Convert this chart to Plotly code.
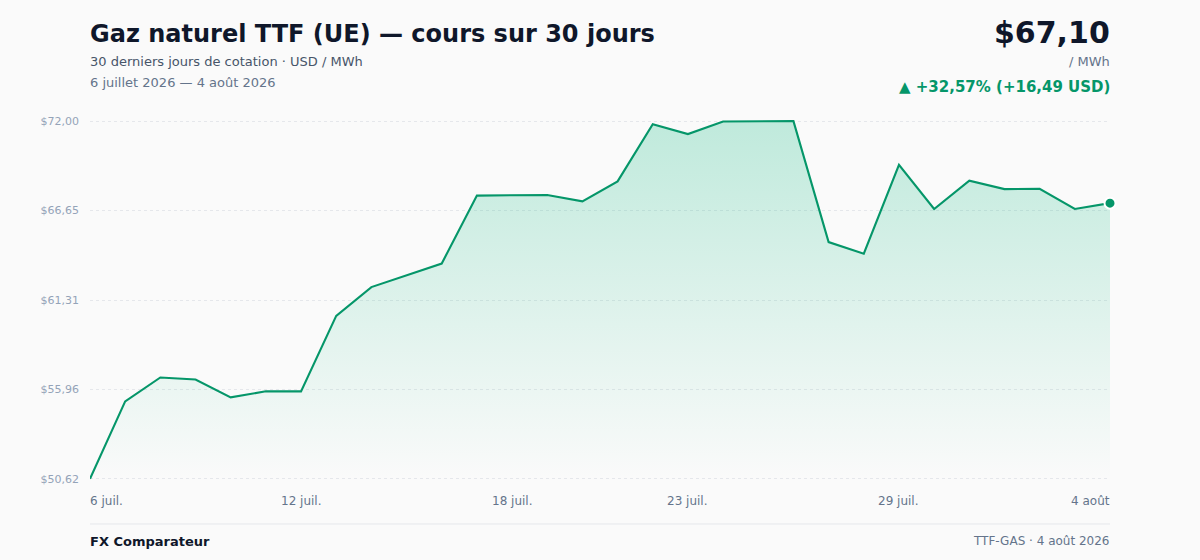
import plotly.graph_objects as go

# ---- data ----
dates = [
    "2026-07-06", "2026-07-07", "2026-07-08", "2026-07-09", "2026-07-10",
    "2026-07-11", "2026-07-12", "2026-07-13", "2026-07-14", "2026-07-15",
    "2026-07-16", "2026-07-17", "2026-07-18", "2026-07-19", "2026-07-20",
    "2026-07-21", "2026-07-22", "2026-07-23", "2026-07-24", "2026-07-25",
    "2026-07-26", "2026-07-27", "2026-07-28", "2026-07-29", "2026-07-30",
    "2026-07-31", "2026-08-01", "2026-08-02", "2026-08-03", "2026-08-04",
]
prices = [
    50.62, 55.25, 56.68, 56.56, 55.49, 55.85, 55.85, 60.36, 62.08, 62.80,
    63.49, 67.55, 67.59, 67.59, 67.21, 68.40, 71.82, 71.23, 71.98, 72.00,
    72.00, 64.77, 64.08, 69.39, 66.75, 68.44, 67.94, 67.96, 66.75, 67.10,
]
y_tick_vals = [50.62, 55.965, 61.31, 66.655, 72.00]
y_tick_text = ["$50,62", "$55,96", "$61,31", "$66,65", "$72,00"]
x_tick_dates = ["2026-07-06", "2026-07-12", "2026-07-18", "2026-07-23", "2026-07-29", "2026-08-04"]
x_tick_text = ["6 juil.", "12 juil.", "18 juil.", "23 juil.", "29 juil.", "4 août"]

title = "Gaz naturel TTF (UE) — cours sur 30 jours"
subtitle = "30 derniers jours de cotation · USD / MWh"
period = "6 juillet 2026 — 4 août 2026"
price_label = "$67,10"
unit_label = "/ MWh"
change_label = "▲ +32,57% (+16,49 USD)"
brand = "FX Comparateur"
source = "TTF-GAS · 4 août 2026"

# ---- layout constants ----
W, H = 1200, 560
L, R, T, B = 90, 90, 120, 80
PW, PH = W - L - R, H - T - B
FONT = "DejaVu Sans"
GREEN = "#059669"
BG = "#fafafa"
LEFT_TXT, RIGHT_TXT = 88, 1112  # compensate annotation inner padding


def px_x(px):
    return (px - L) / PW


def px_y(py):
    return 1 - (py - T) / PH


fig = go.Figure()

fig.add_trace(go.Scatter(
    x=dates, y=prices, mode="lines",
    line=dict(color=GREEN, width=2.1),
    fill="tozeroy",
    fillgradient=dict(
        type="vertical",
        colorscale=[[0, "rgba(16,185,129,0.0)"], [1, "rgba(16,185,129,0.25)"]],
        start=50.62, stop=72.0,
    ),
    hoverinfo="skip", showlegend=False,
))

fig.add_trace(go.Scatter(
    x=[dates[-1]], y=[prices[-1]], mode="markers",
    marker=dict(color=GREEN, size=11, line=dict(color="white", width=2)),
    cliponaxis=False, hoverinfo="skip", showlegend=False,
))

pad = 0.07
fig.update_layout(
    width=W, height=H,
    margin=dict(l=L, r=R, t=T, b=B, pad=0),
    paper_bgcolor=BG, plot_bgcolor=BG,
    font=dict(family=FONT, color="#0f172a"),
    xaxis=dict(
        type="date", range=[dates[0], dates[-1]],
        showgrid=False, zeroline=False, showline=False,
        showticklabels=False, ticks="",
    ),
    yaxis=dict(
        range=[y_tick_vals[0] - pad, y_tick_vals[-1] + pad],
        tickvals=y_tick_vals, ticktext=y_tick_text,
        tickfont=dict(size=11, color="#94a3b8", family=FONT),
        showgrid=True, gridcolor="#e5e7eb", griddash="dot", gridwidth=1,
        zeroline=False, showline=False, ticks="", ticklabelstandoff=10,
    ),
)

# x tick labels (first anchored left, last anchored right)
for i, (d, t) in enumerate(zip(x_tick_dates, x_tick_text)):
    if i == 0:
        anchor, shift = "left", -2
    elif i == len(x_tick_dates) - 1:
        anchor, shift = "right", 2
    else:
        anchor, shift = "center", 0
    fig.add_annotation(
        x=d, xref="x", y=px_y(501), yref="paper", text=t, showarrow=False,
        xanchor=anchor, yanchor="middle", xshift=shift,
        font=dict(size=12, color="#64748b", family=FONT),
    )

# header
fig.add_annotation(x=px_x(LEFT_TXT), y=px_y(34), xref="paper", yref="paper", text=f"<b>{title}</b>",
                   showarrow=False, xanchor="left", yanchor="middle",
                   font=dict(size=24, color="#0f172a", family=FONT))
fig.add_annotation(x=px_x(LEFT_TXT), y=px_y(62), xref="paper", yref="paper", text=subtitle,
                   showarrow=False, xanchor="left", yanchor="middle",
                   font=dict(size=13, color="#475569", family=FONT))
fig.add_annotation(x=px_x(LEFT_TXT), y=px_y(83), xref="paper", yref="paper", text=period,
                   showarrow=False, xanchor="left", yanchor="middle",
                   font=dict(size=13, color="#64748b", family=FONT))

fig.add_annotation(x=px_x(RIGHT_TXT), y=px_y(33), xref="paper", yref="paper", text=f"<b>{price_label}</b>",
                   showarrow=False, xanchor="right", yanchor="middle",
                   font=dict(size=30, color="#0f172a", family=FONT))
fig.add_annotation(x=px_x(RIGHT_TXT), y=px_y(62), xref="paper", yref="paper", text=unit_label,
                   showarrow=False, xanchor="right", yanchor="middle",
                   font=dict(size=13, color="#64748b", family=FONT))
fig.add_annotation(x=px_x(RIGHT_TXT), y=px_y(87), xref="paper", yref="paper", text=f"<b>{change_label}</b>",
                   showarrow=False, xanchor="right", yanchor="middle",
                   font=dict(size=15, color=GREEN, family=FONT))

# footer
fig.add_shape(type="line", xref="paper", yref="paper",
              x0=px_x(90), x1=px_x(1110), y0=px_y(524), y1=px_y(524),
              line=dict(color="#e5e7eb", width=1))
fig.add_annotation(x=px_x(LEFT_TXT), y=px_y(541), xref="paper", yref="paper", text=f"<b>{brand}</b>",
                   showarrow=False, xanchor="left", yanchor="middle",
                   font=dict(size=13, color="#0f172a", family=FONT))
fig.add_annotation(x=px_x(RIGHT_TXT), y=px_y(541), xref="paper", yref="paper", text=source,
                   showarrow=False, xanchor="right", yanchor="middle",
                   font=dict(size=12, color="#64748b", family=FONT))

fig.write_html(
    "out.html",
    config={"displayModeBar": False},
    post_script="document.body.style.margin='0';document.body.style.background='#fafafa';",
)
